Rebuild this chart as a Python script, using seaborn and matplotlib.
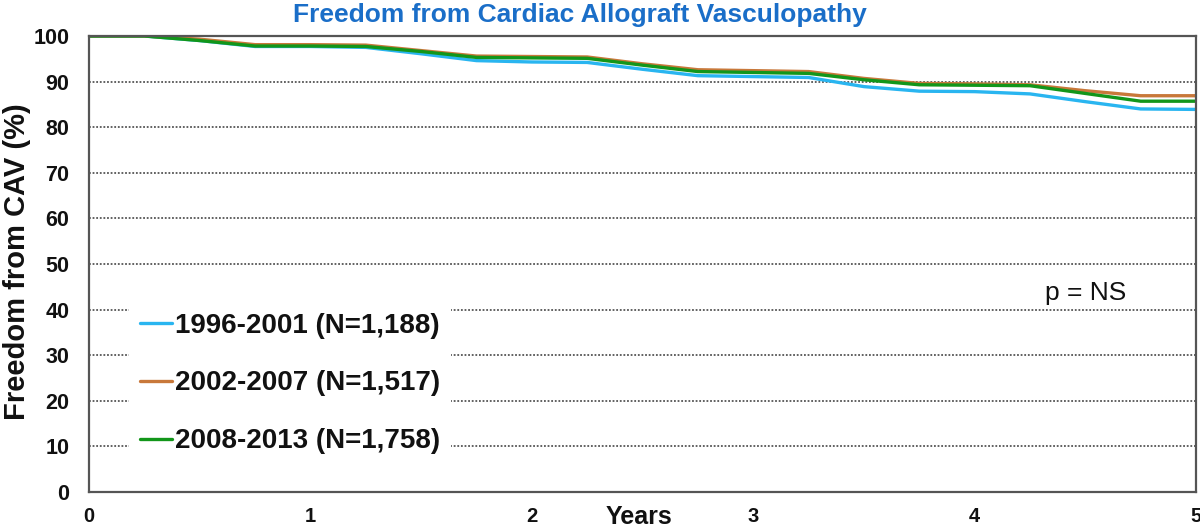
import pandas as pd
import matplotlib
matplotlib.use('Agg')
import matplotlib.pyplot as plt
import seaborn as sns

years = [0, 0.25, 0.5, 0.75, 1.0, 1.25, 1.5, 1.75, 2.0, 2.25, 2.5, 2.75,
         3.0, 3.25, 3.5, 3.75, 4.0, 4.25, 4.5, 4.75, 5.0]
era_1996 = [100, 100, 99.0, 97.7, 97.7, 97.5, 96.1, 94.6, 94.3, 94.2, 92.7, 91.3,
            91.1, 90.9, 88.9, 87.9, 87.8, 87.3, 85.6, 84.0, 83.9]
era_2002 = [100, 100, 99.3, 98.1, 98.1, 98.0, 96.8, 95.6, 95.5, 95.4, 93.9, 92.6,
            92.4, 92.2, 90.7, 89.6, 89.5, 89.3, 88.0, 86.9, 86.9]
era_2008 = [100, 100, 99.0, 97.8, 97.8, 97.7, 96.6, 95.3, 95.2, 95.1, 93.6, 92.2,
            92.0, 91.8, 90.4, 89.3, 89.2, 89.1, 87.4, 85.7, 85.7]
labels = ['1996-2001 (N=1,188)', '2002-2007 (N=1,517)', '2008-2013 (N=1,758)']
colors = ['#29B5F0', '#C8783A', '#12961A']

df = pd.concat([
    pd.DataFrame({'years': years, 'free': vals, 'era': lab})
    for vals, lab in zip([era_1996, era_2002, era_2008], labels)
])

sns.set_style('white')
plt.rcParams['font.family'] = ['Liberation Sans', 'DejaVu Sans']
plt.rcParams['text.color'] = '#111111'
plt.rcParams['axes.labelcolor'] = '#111111'
plt.rcParams['xtick.labelcolor'] = '#111111'
plt.rcParams['ytick.labelcolor'] = '#111111'

fig = plt.figure(figsize=(12, 5.27), dpi=100)
ax = fig.add_axes([0.0742, 0.0664, 0.9225, 0.8653])

sns.lineplot(data=df, x='years', y='free', hue='era', palette=colors,
             linewidth=2.4, ax=ax, legend=True)

ax.set_xlim(0, 5)
ax.set_ylim(0, 100)
ax.set_xticks(range(0, 6))
ax.set_yticks(range(0, 101, 10))
ax.yaxis.grid(True, linestyle=(0, (1, 1)), color='#555555', linewidth=1.3)
ax.set_axisbelow(True)
for s in ax.spines.values():
    s.set_color('#555555')
    s.set_linewidth(1.6)
ax.tick_params(axis='both', direction='out', length=5, width=1.4, color='#555555')
ax.tick_params(axis='y', pad=9)
ax.tick_params(axis='x', pad=6)
for t in ax.get_yticklabels():
    t.set_fontweight('bold')
    t.set_fontsize(15.5)
for t in ax.get_xticklabels():
    t.set_fontweight('bold')
    t.set_fontsize(14.5)

ax.set_ylabel('Freedom from CAV (%)', fontsize=21, fontweight='bold', va='center')
ax.yaxis.set_label_coords(-0.065, 0.505)
ax.set_xlabel('Years', fontsize=18, fontweight='bold', va='top')
ax.xaxis.set_label_coords(0.497, -0.028)

fig.text(0.483, 0.972, 'Freedom from Cardiac Allograft Vasculopathy',
         ha='center', va='center', fontsize=19, fontweight='bold',
         color='#1A6EC8', family=['Liberation Sans Narrow', 'Liberation Sans'])

ax.text(4.5, 43.6, 'p = NS', ha='center', va='center', fontsize=19)

leg = ax.legend(loc='center left', bbox_to_anchor=(0.0235, 0.238), frameon=True,
                facecolor='white', edgecolor='none', framealpha=1,
                fontsize=20, handlelength=1.15, handletextpad=0.1,
                labelspacing=1.15, borderpad=0.4)
for t in leg.get_texts():
    t.set_fontweight('bold')
for h in leg.get_lines():
    h.set_linewidth(2.4)

fig.savefig('out.png', dpi=100)
